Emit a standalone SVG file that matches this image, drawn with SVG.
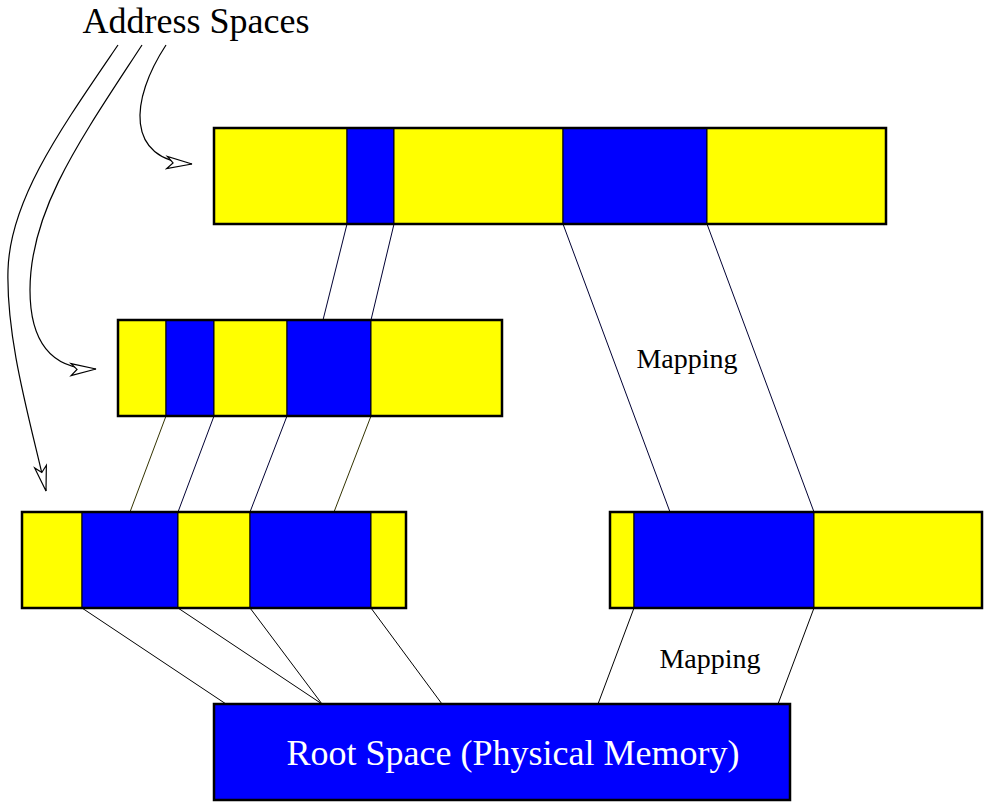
<svg xmlns="http://www.w3.org/2000/svg" width="984" height="804" viewBox="0 0 984 804">
  <style>
    .y { fill: #ffff00; stroke: #000; stroke-width: 1; }
    .b { fill: #0000ff; stroke: #000; stroke-width: 1; }
    .frame { fill: none; stroke: #000; stroke-width: 2.5; }
    .map { stroke: #000033; stroke-width: 1; fill: none; }
    .olive { stroke: #333300; stroke-width: 1; fill: none; }
    .blk { stroke: #000; stroke-width: 1; fill: none; }
    .lbl { font-family: "Liberation Serif", "Times New Roman", serif; fill: #000; }
    .curve { fill: none; stroke: #000; stroke-width: 1.2; }
  </style>
  <defs>
    <marker id="openArrow" markerUnits="userSpaceOnUse" markerWidth="30" markerHeight="16" viewBox="-26 -8 28 16" refX="0" refY="0" orient="auto">
      <path d="M0,0 L-25,-6 L-19,0 L-25,6 Z" fill="#fff" stroke="#000" stroke-width="1.2"/>
    </marker>
  </defs>

  <!-- title and pointer curves -->
  <text class="lbl" x="196" y="33" font-size="36" text-anchor="middle">Address Spaces</text>
  <g id="pointers">
    <path class="curve" d="M118,45 C60,130 10,200 8,270 C6,340 30,420 46,491" marker-end="url(#openArrow)"/>
    <path class="curve" d="M142,45 C80,140 30,210 30,290 C30,340 50,370 96,369" marker-end="url(#openArrow)"/>
    <path class="curve" d="M166,45 C130,100 125,160 192,164" marker-end="url(#openArrow)"/>
  </g>

  <!-- mapping connectors -->
  <g id="connectors">
    <line class="map" x1="347" y1="224" x2="323" y2="320"/>
    <line class="map" x1="394" y1="224" x2="371" y2="320"/>
    <line class="map" x1="563" y1="224" x2="670" y2="512"/>
    <line class="map" x1="707" y1="224" x2="814" y2="512"/>
    <line class="olive" x1="166" y1="416" x2="130" y2="512"/>
    <line class="map" x1="214" y1="416" x2="178" y2="512"/>
    <line class="map" x1="287" y1="416" x2="250" y2="512"/>
    <line class="olive" x1="371" y1="416" x2="334" y2="512"/>
    <line class="blk" x1="82" y1="608" x2="226" y2="704"/>
    <line class="blk" x1="178" y1="608" x2="322" y2="704"/>
    <line class="blk" x1="250" y1="608" x2="322" y2="704"/>
    <line class="blk" x1="371" y1="608" x2="442" y2="704"/>
    <line class="blk" x1="634" y1="608" x2="598" y2="704"/>
    <line class="blk" x1="814" y1="608" x2="778" y2="704"/>
  </g>

  <g id="space-top">
    <rect class="y" x="214" y="128" width="133" height="96"/>
    <rect class="b" x="347" y="128" width="47" height="96"/>
    <rect class="y" x="394" y="128" width="169" height="96"/>
    <rect class="b" x="563" y="128" width="144" height="96"/>
    <rect class="y" x="707" y="128" width="179" height="96"/>
    <rect class="frame" x="214" y="128" width="672" height="96"/>
  </g>

  <g id="space-middle">
    <rect class="y" x="118" y="320" width="48" height="96"/>
    <rect class="b" x="166" y="320" width="48" height="96"/>
    <rect class="y" x="214" y="320" width="73" height="96"/>
    <rect class="b" x="287" y="320" width="84" height="96"/>
    <rect class="y" x="371" y="320" width="131" height="96"/>
    <rect class="frame" x="118" y="320" width="384" height="96"/>
  </g>

  <g id="space-lower-left">
    <rect class="y" x="22" y="512" width="60" height="96"/>
    <rect class="b" x="82" y="512" width="96" height="96"/>
    <rect class="y" x="178" y="512" width="72" height="96"/>
    <rect class="b" x="250" y="512" width="121" height="96"/>
    <rect class="y" x="371" y="512" width="35" height="96"/>
    <rect class="frame" x="22" y="512" width="384" height="96"/>
  </g>

  <g id="space-lower-right">
    <rect class="y" x="610" y="512" width="24" height="96"/>
    <rect class="b" x="634" y="512" width="180" height="96"/>
    <rect class="y" x="814" y="512" width="168" height="96"/>
    <rect class="frame" x="610" y="512" width="372" height="96"/>
  </g>

  <g id="root-space">
    <rect x="214" y="704" width="576" height="96" fill="#0000ff" stroke="#000" stroke-width="2.5"/>
    <text class="lbl" x="513" y="765" font-size="36" text-anchor="middle" style="fill:#fff">Root Space (Physical Memory)</text>
  </g>

  <g id="labels">
    <text class="lbl" x="687" y="368" font-size="28" text-anchor="middle">Mapping</text>
    <text class="lbl" x="710" y="668" font-size="28" text-anchor="middle">Mapping</text>
  </g>
</svg>
